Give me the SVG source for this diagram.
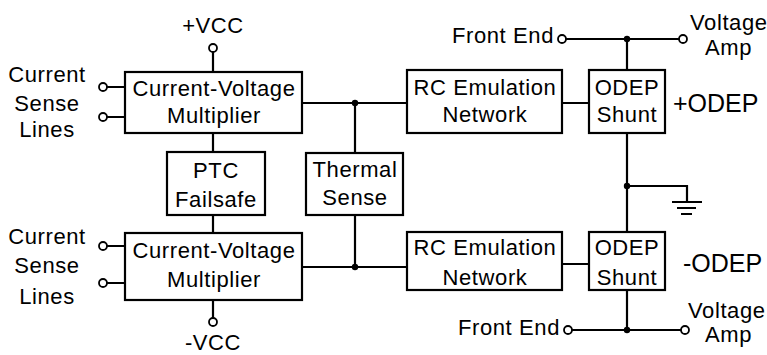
<svg xmlns="http://www.w3.org/2000/svg" width="767" height="355" viewBox="0 0 767 355">
<style>
.box{fill:#fff;stroke:#000;stroke-width:2.2}
.w{fill:none;stroke:#000;stroke-width:2.2}
.term{fill:#fff;stroke:#000;stroke-width:1.8}
.dot{fill:#000}
text{font-family:"Liberation Sans",Arial,sans-serif;font-size:22px;fill:#000;letter-spacing:0.6px}
.c{text-anchor:middle}
.e{text-anchor:end}
.big{font-size:25px;letter-spacing:0}
</style>
<rect width="767" height="355" fill="#fff"/>
<g id="connectors">
  <path class="w" d="M213 52V72M107 87H125M107 117H125M302 103H407M355 103V153M213 133V152"/>
  <path class="w" d="M213 215V233M107 246H125M107 283H125M302 267H407M355 215V267M213 300V318"/>
  <path class="w" d="M562 103H589M562 264H589"/>
  <path class="w" d="M566 39H679M627 39V70M627 133V232M627 186H687V202M627 290V330M572 330H681"/>
  <path class="w" d="M672 202H702M677 208H696M681 214H692"/>
  <circle class="dot" cx="355" cy="103" r="3.2"/>
  <circle class="dot" cx="355" cy="267" r="3.2"/>
  <circle class="dot" cx="627" cy="39" r="3.2"/>
  <circle class="dot" cx="627" cy="186" r="3.2"/>
  <circle class="dot" cx="627" cy="330" r="3.2"/>
  <circle class="term" cx="213" cy="48" r="4"/>
  <circle class="term" cx="213" cy="322" r="4"/>
  <circle class="term" cx="103" cy="87" r="4"/>
  <circle class="term" cx="103" cy="117" r="4"/>
  <circle class="term" cx="103" cy="246" r="4"/>
  <circle class="term" cx="103" cy="283" r="4"/>
  <circle class="term" cx="562" cy="39" r="4"/>
  <circle class="term" cx="683" cy="39" r="4"/>
  <circle class="term" cx="568" cy="330" r="4"/>
  <circle class="term" cx="685" cy="330" r="4"/>
</g>
<g id="cv1">
  <rect class="box" x="125" y="72" width="177" height="61"/>
  <text class="c" x="214" y="96">Current-Voltage</text>
  <text class="c" x="214" y="123">Multiplier</text>
</g>
<g id="cv2">
  <rect class="box" x="125" y="233" width="177" height="67"/>
  <text class="c" x="214" y="258">Current-Voltage</text>
  <text class="c" x="214" y="287">Multiplier</text>
</g>
<g id="ptc">
  <rect class="box" x="167" y="152" width="98" height="63"/>
  <text class="c" x="216" y="178">PTC</text>
  <text class="c" x="216" y="207">Failsafe</text>
</g>
<g id="thermal">
  <rect class="box" x="306" y="153" width="97" height="62"/>
  <text class="c" x="355" y="177">Thermal</text>
  <text class="c" x="355" y="205">Sense</text>
</g>
<g id="rc1">
  <rect class="box" x="407" y="70" width="155" height="63"/>
  <text class="c" x="485" y="95">RC Emulation</text>
  <text class="c" x="485" y="122">Network</text>
</g>
<g id="rc2">
  <rect class="box" x="407" y="232" width="155" height="58"/>
  <text class="c" x="485" y="255">RC Emulation</text>
  <text class="c" x="485" y="285">Network</text>
</g>
<g id="odep1">
  <rect class="box" x="589" y="70" width="76" height="63"/>
  <text class="c" x="627" y="95">ODEP</text>
  <text class="c" x="627" y="122">Shunt</text>
</g>
<g id="odep2">
  <rect class="box" x="589" y="232" width="76" height="58"/>
  <text class="c" x="627" y="255">ODEP</text>
  <text class="c" x="627" y="285">Shunt</text>
</g>
<g id="labels">
  <text class="c" x="213" y="33">+VCC</text>
  <text class="c" x="213" y="350">-VCC</text>
  <text class="c" x="47" y="82">Current</text>
  <text class="c" x="47" y="111">Sense</text>
  <text class="c" x="47" y="137">Lines</text>
  <text class="c" x="47" y="244">Current</text>
  <text class="c" x="47" y="273">Sense</text>
  <text class="c" x="47" y="304">Lines</text>
  <text class="e" x="554" y="43">Front End</text>
  <text class="e" x="560" y="335">Front End</text>
  <text x="690" y="30">Voltage</text>
  <text x="705" y="55">Amp</text>
  <text x="688" y="318">Voltage</text>
  <text x="705" y="342">Amp</text>
  <text class="big" x="673" y="112">+ODEP</text>
  <text class="big" x="683" y="272">-ODEP</text>
</g>
</svg>
